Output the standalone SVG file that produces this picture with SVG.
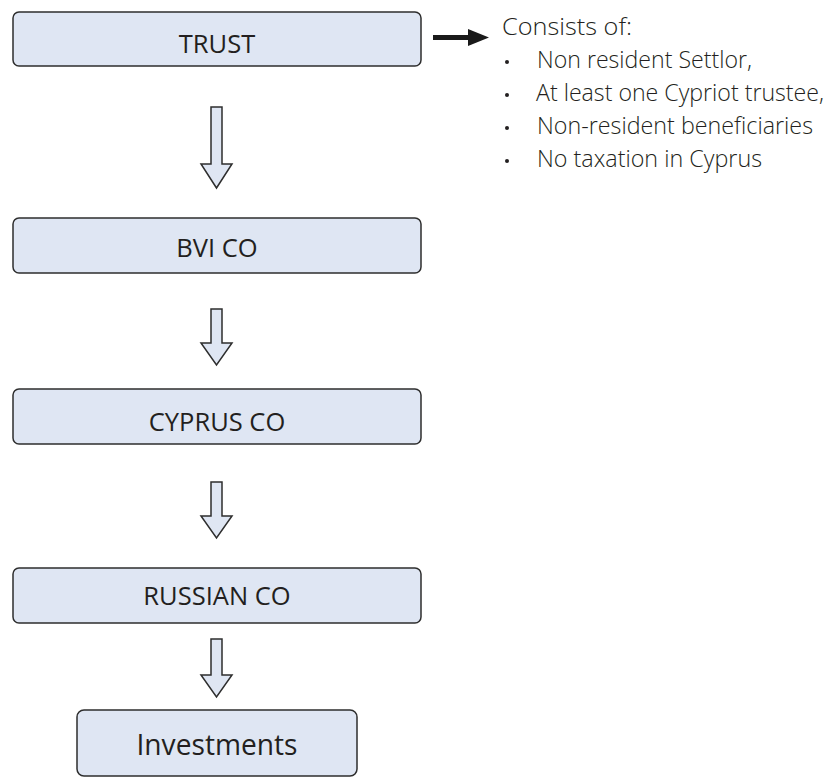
<svg xmlns="http://www.w3.org/2000/svg" width="836" height="778" viewBox="0 0 836 778">
<style>
.box{fill:#dfe6f3;stroke:#2e2e2e;stroke-width:1.5}
.lbl{font-family:"Open Sans","Liberation Sans",sans-serif;font-size:25.5px;fill:#231f20;text-anchor:middle}
.note{font-family:"Open Sans","Liberation Sans",sans-serif;font-size:24.5px;font-weight:300;fill:#231f20}
.arr{fill:#dfe6f3;stroke:#2e2e2e;stroke-width:1.5;stroke-linejoin:miter}
</style>
<rect width="836" height="778" fill="#ffffff"/>
<g id="trust"><rect class="box" x="13" y="12" width="408" height="54" rx="6"/><text class="lbl" x="217" y="53">TRUST</text></g>
<g id="bvi"><rect class="box" x="13" y="218" width="408" height="55" rx="6"/><text class="lbl" x="217" y="257">BVI CO</text></g>
<g id="cyprus"><rect class="box" x="13" y="389" width="408" height="55" rx="6"/><text class="lbl" x="217" y="431">CYPRUS CO</text></g>
<g id="russian"><rect class="box" x="13" y="568" width="408" height="55" rx="6"/><text class="lbl" x="217" y="605">RUSSIAN CO</text></g>
<g id="investments"><rect class="box" x="77" y="710" width="280" height="66" rx="7"/><text class="lbl" x="217" y="755" style="font-size:30px" textLength="161" lengthAdjust="spacingAndGlyphs">Investments</text></g>
<g id="note">
<text class="note" x="502" y="35" textLength="130" lengthAdjust="spacingAndGlyphs">Consists of:</text>
<circle cx="507" cy="62" r="2" fill="#231f20"/><text class="note" x="537" y="68" textLength="215" lengthAdjust="spacingAndGlyphs">Non resident Settlor,</text>
<circle cx="507" cy="95" r="2" fill="#231f20"/><text class="note" x="536" y="101" style="font-size:23.2px" textLength="288" lengthAdjust="spacingAndGlyphs">At least one Cypriot trustee,</text>
<circle cx="507" cy="128" r="2" fill="#231f20"/><text class="note" x="537" y="134" textLength="276" lengthAdjust="spacingAndGlyphs">Non-resident beneficiaries</text>
<circle cx="507" cy="161" r="2" fill="#231f20"/><text class="note" x="537" y="167" textLength="225" lengthAdjust="spacingAndGlyphs">No taxation in Cyprus</text>
</g>
<g id="connectors">
<polygon class="arr" points="211,107 222,107 222,164 232,164 216.5,188 201,164 211,164"/>
<polygon class="arr" points="211,309 222,309 222,343 232,343 216.5,365 201,343 211,343"/>
<polygon class="arr" points="211,482 222,482 222,516 232,516 216.5,538 201,516 211,516"/>
<polygon class="arr" points="211,639 222,639 222,675 232,675 216.5,697 201,675 211,675"/>
<line x1="433" y1="37.5" x2="470" y2="37.5" stroke="#1a1a1a" stroke-width="5"/>
<polygon points="468,29 489,37.5 468,46" fill="#1a1a1a"/>
</g>
</svg>
